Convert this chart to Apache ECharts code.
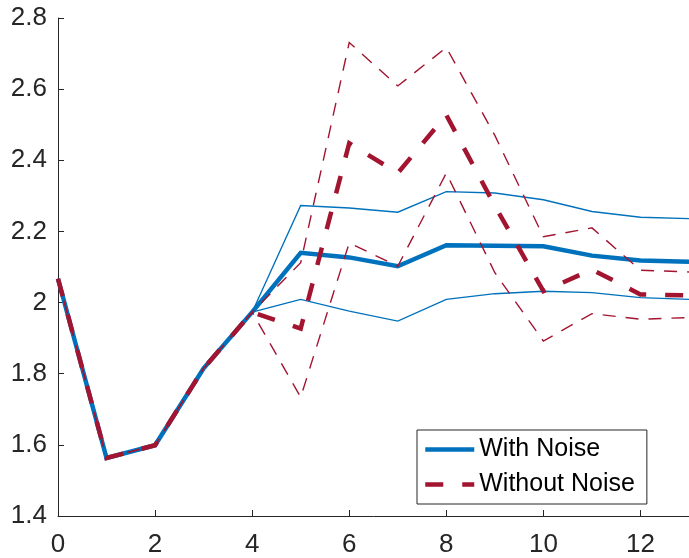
<!DOCTYPE html>
<html>
<head>
<meta charset="utf-8">
<script src="https://cdn.jsdelivr.net/npm/echarts@6/dist/echarts.min.js"></script>
<style>
html,body{margin:0;padding:0;background:#fff;}
#chart{width:689px;height:558px;}
</style>
</head>
<body>
<div id="chart"></div>
<script>
var xValues = [0,1,2,3,4,5,6,7,8,9,10,11,12,13];
var withNoise      = [2.067,1.563,1.599,1.815,1.973,2.140,2.127,2.102,2.161,2.160,2.158,2.132,2.118,2.115];
var withNoiseUpper = [2.067,1.563,1.599,1.815,1.973,2.273,2.266,2.254,2.312,2.308,2.289,2.256,2.240,2.236];
var withNoiseLower = [2.067,1.563,1.599,1.815,1.973,2.009,1.976,1.948,2.009,2.025,2.032,2.028,2.014,2.009];
var withoutNoise      = [2.067,1.563,1.599,1.815,1.973,1.927,2.448,2.364,2.527,2.272,2.032,2.093,2.023,2.020];
var withoutNoiseUpper = [2.067,1.563,1.599,1.815,1.973,2.112,2.731,2.609,2.717,2.470,2.185,2.210,2.091,2.086];
var withoutNoiseLower = [2.067,1.563,1.599,1.815,1.973,1.734,2.168,2.102,2.364,2.084,1.892,1.969,1.953,1.958];
var legendNames = ['With Noise','Without Noise'];

var BLUE = '#0072BD', RED = '#A2142F', AX = '#262626';
var FONT = 'Liberation Sans, Arial, Helvetica, sans-serif';

function pairs(ys){ return xValues.map(function(x,i){ return [x, ys[i]]; }); }
function line(name, ys, color, width, type, z){
  return {
    name: name, type: 'line', data: pairs(ys), symbol: 'none', showSymbol: false,
    lineStyle: {color: color, width: width, type: type, cap: 'butt', join: 'miter'},
    itemStyle: {color: color}, emphasis: {disabled: true}, silent: true, z: z, animation: false
  };
}

var chart = echarts.init(document.getElementById('chart'), null, {renderer: 'canvas'});
chart.setOption({
  backgroundColor: '#ffffff',
  animation: false,
  grid: {left: 58, top: 18, width: 631, height: 499.5, containLabel: false},
  xAxis: {
    type: 'value', min: 0, max: 13, interval: 2,
    axisLine: {show: true, lineStyle: {color: AX, width: 1}},
    axisTick: {show: true, inside: true, length: 6, lineStyle: {color: AX}},
    axisLabel: {show: true, margin: 16, fontSize: 26, color: AX, fontFamily: FONT, showMaxLabel: false},
    splitLine: {show: false}
  },
  yAxis: {
    type: 'value', min: 1.4, max: 2.8, interval: 0.2,
    axisLine: {show: true, lineStyle: {color: AX, width: 1}},
    axisTick: {show: true, inside: true, length: 6, lineStyle: {color: AX}},
    axisLabel: {show: true, margin: 11, fontSize: 26, color: AX, fontFamily: FONT,
      formatter: function(v){ return String(+v.toFixed(2)); }},
    splitLine: {show: false}
  },
  legend: {
    data: legendNames,
    orient: 'vertical',
    left: 417, top: 430,
    padding: [5, 12, 5, 6],
    itemGap: 6,
    itemWidth: 49, itemHeight: 14,
    backgroundColor: '#ffffff',
    borderColor: AX, borderWidth: 1, borderRadius: 0,
    selectedMode: false,
    itemStyle: {opacity: 0},
    lineStyle: {width: 4.5, type: 'inherit', cap: 'butt'},
    textStyle: {fontSize: 25, color: '#000', fontFamily: FONT, lineHeight: 29}
  },
  series: [
    line('With Noise', withNoise, BLUE, 4.5, 'solid', 3),
    line('With Noise upper', withNoiseUpper, BLUE, 1.4, 'solid', 2),
    line('With Noise lower', withNoiseLower, BLUE, 1.4, 'solid', 2),
    line('Without Noise', withoutNoise, RED, 4.5, [18, 19], 5),
    line('Without Noise upper', withoutNoiseUpper, RED, 1.4, [13, 10], 4),
    line('Without Noise lower', withoutNoiseLower, RED, 1.4, [13, 10], 4)
  ]
});
</script>
</body>
</html>
